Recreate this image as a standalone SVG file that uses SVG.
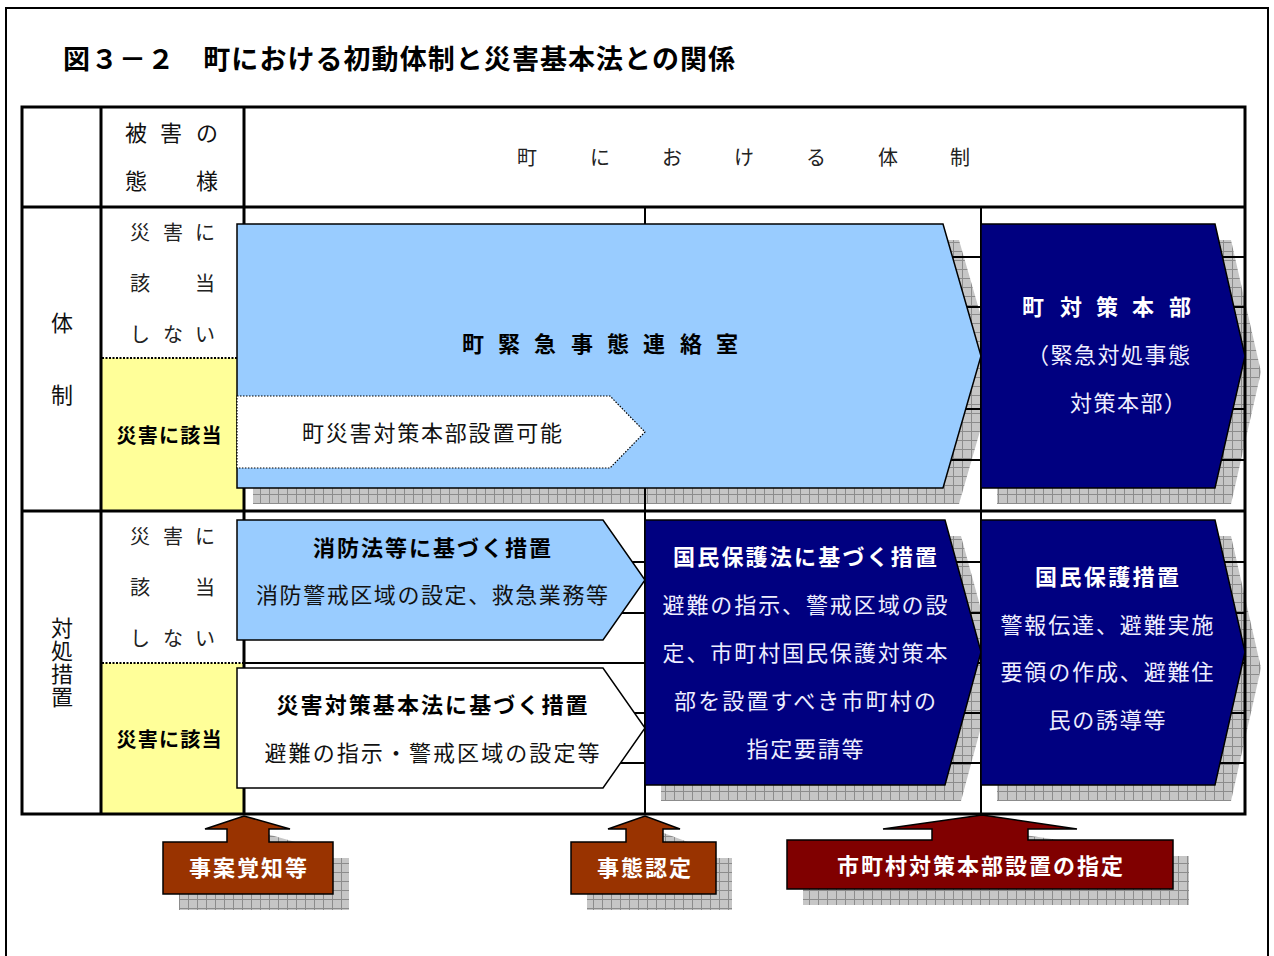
<svg xmlns="http://www.w3.org/2000/svg" width="1274" height="956" viewBox="0 0 1274 956">
<defs>
<pattern id="hatch" width="9" height="9" patternUnits="userSpaceOnUse">
<rect width="9" height="9" fill="#C6C6C6"/>
<path d="M8.5 0V9M0 8.5H9" stroke="#8C8C8C" stroke-width="1"/>
</pattern>
<style>
text{font-family:"Noto Sans CJK JP","Noto Sans",sans-serif;}
.t{font-size:22px;fill:#111;}
.s{font-size:20px;fill:#222;}
.b{font-size:22px;font-weight:bold;fill:#000;}
.w{font-size:22px;font-weight:bold;fill:#fff;}
.wl{font-size:22px;fill:#EEEEFF;}
.c{text-anchor:middle;}
.sh{fill:url(#hatch);}
.lb{fill:#99CCFF;stroke:#000;stroke-width:1.5;}
.nv{fill:#000080;stroke:#000;stroke-width:1.5;}
.wh{fill:#fff;stroke:#000;stroke-width:1.5;}
.ln{stroke:#000;stroke-width:2;fill:none;}
.bd{stroke:#000;stroke-width:3;fill:none;}
</style>
</defs>
<rect width="1274" height="956" fill="#fff"/>
<path d="M6 956V8H1268V956" fill="none" stroke="#000" stroke-width="2"/>
<text x="63" y="69" style="font-size:27px;font-weight:bold;fill:#000" textLength="672" lengthAdjust="spacing">図３－２　町における初動体制と災害基本法との関係</text>

<g id="shadows">
<polygon class="sh" points="253,240 959,240 997,372 959,504 253,504"/>
<polygon class="sh" points="997,240 1231,240 1261,372 1231,504 997,504"/>
<polygon class="sh" points="661,536 961,536 997,668 961,801 661,801"/>
<polygon class="sh" points="997,536 1231,536 1261,668 1231,801 997,801"/>
<polygon class="sh" points="179,858 243,858 243,845 221,845 260,832 306,845 285,845 285,858 349,858 349,910 179,910"/>
<polygon class="sh" points="587,858 642,858 642,845 624,845 661,832 696,845 679,845 679,858 732,858 732,910 587,910"/>
<polygon class="sh" points="803,856 948,856 948,845 899,845 998,831 1093,845 1044,845 1044,856 1189,856 1189,905 803,905"/>
</g>

<g id="table">
<rect x="102" y="358" width="142" height="153" fill="#FFFF99"/>
<rect x="102" y="663" width="142" height="151" fill="#FFFF99"/>
<path class="ln" d="M244 257H1245M244 307H1245M244 358H1245M244 409H1245M244 460H1245M244 562H1245M244 613H1245M244 663H1245M244 713H1245M244 763H1245"/>
<path d="M102 358H244M102 663H244" stroke="#000" stroke-width="2" stroke-dasharray="2 1.5"/>
<path class="ln" d="M645 207V814M981 207V814"/>
<path class="bd" d="M22 107H1245V814H22ZM101 107V814M244 107V814M22 207H1245M22 511H1245"/>
</g>

<g id="labels">
<text class="t c" x="136 171 207" y="141">被害の</text>
<text class="t c" x="136 207" y="189">態様</text>
<text class="s c" x="527 600 672 744 816 888 960" y="165">町における体制</text>
<text class="s c" x="140 173 205" y="240">災害に</text>
<text class="s c" x="140 205" y="291">該当</text>
<text class="s c" x="140 173 205" y="342">しない</text>
<text class="s c" x="140 173 205" y="544">災害に</text>
<text class="s c" x="140 205" y="595">該当</text>
<text class="s c" x="140 173 205" y="646">しない</text>
<text class="t c" x="62" y="331">体</text>
<text class="t c" x="62" y="403">制</text>
<text class="t c" x="62 62 62 62" y="636 659 682 705">対処措置</text>
<text class="b c" x="169" y="443" style="font-size:20px" textLength="105" lengthAdjust="spacing">災害に該当</text>
<text class="b c" x="169" y="747" style="font-size:20px" textLength="105" lengthAdjust="spacing">災害に該当</text>
</g>

<g id="node-renraku">
<polygon class="lb" points="237,224 943,224 981,356 943,488 237,488"/>
<text class="b c" x="473 509 545 582 618 654 691 727" y="352">町緊急事態連絡室</text>
</g>

<g id="node-kanou">
<polygon points="237,396 610,396 645,432 610,468 237,468" fill="#fff" stroke="#000" stroke-width="1.2" stroke-dasharray="1.5 1.5"/>
<text class="t c" x="432" y="441" textLength="260" lengthAdjust="spacing">町災害対策本部設置可能</text>
</g>

<g id="node-honbu">
<polygon class="nv" points="981,224 1215,224 1245,356 1215,488 981,488"/>
<text class="w c" x="1033 1071 1107 1143 1180" y="315">町対策本部</text>
<text class="wl" x="1027" y="363" textLength="163" lengthAdjust="spacing">（緊急対処事態</text>
<text class="wl" x="1070" y="411" textLength="116" lengthAdjust="spacing">対策本部）</text>
</g>

<g id="node-shobo">
<polygon class="lb" points="237,520 603,520 645,580 603,640 237,640"/>
<text class="b c" x="432" y="556" textLength="238" lengthAdjust="spacing">消防法等に基づく措置</text>
<text class="t c" x="432" y="603" textLength="352" lengthAdjust="spacing">消防警戒区域の設定、救急業務等</text>
</g>

<g id="node-saigai">
<polygon class="wh" points="237,668 603,668 645,728 603,788 237,788"/>
<text class="b c" x="432" y="713" textLength="311" lengthAdjust="spacing">災害対策基本法に基づく措置</text>
<text class="t c" x="432" y="761" textLength="335" lengthAdjust="spacing">避難の指示・警戒区域の設定等</text>
</g>

<g id="node-kokuminho">
<polygon class="nv" points="645,520 945,520 981,652 945,785 645,785"/>
<text class="w c" x="805" y="565" textLength="264" lengthAdjust="spacing">国民保護法に基づく措置</text>
<text class="wl c" x="805" y="613" textLength="285" lengthAdjust="spacing">避難の指示、警戒区域の設</text>
<text class="wl c" x="805" y="661" textLength="285" lengthAdjust="spacing">定、市町村国民保護対策本</text>
<text class="wl c" x="805" y="709" textLength="262" lengthAdjust="spacing">部を設置すべき市町村の</text>
<text class="wl c" x="805" y="757" textLength="117" lengthAdjust="spacing">指定要請等</text>
</g>

<g id="node-kokuminsochi">
<polygon class="nv" points="981,520 1215,520 1245,652 1215,785 981,785"/>
<text class="w c" x="1107" y="585" textLength="144" lengthAdjust="spacing">国民保護措置</text>
<text class="wl c" x="1107" y="633" textLength="213" lengthAdjust="spacing">警報伝達、避難実施</text>
<text class="wl c" x="1107" y="680" textLength="213" lengthAdjust="spacing">要領の作成、避難住</text>
<text class="wl c" x="1107" y="728" textLength="117" lengthAdjust="spacing">民の誘導等</text>
</g>

<g id="node-chichi">
<polygon points="163,842 227,842 227,829 205,829 244,816 290,829 269,829 269,842 333,842 333,894 163,894" fill="#993300" stroke="#000" stroke-width="1.5"/>
<text class="w c" x="248" y="876" textLength="118" lengthAdjust="spacing">事案覚知等</text>
</g>

<g id="node-nintei">
<polygon points="571,842 626,842 626,829 608,829 645,816 680,829 663,829 663,842 716,842 716,894 571,894" fill="#993300" stroke="#000" stroke-width="1.5"/>
<text class="w c" x="644" y="876" textLength="94" lengthAdjust="spacing">事態認定</text>
</g>

<g id="node-shitei">
<polygon points="787,840 932,840 932,829 883,829 982,815 1077,829 1028,829 1028,840 1173,840 1173,889 787,889" fill="#800000" stroke="#000" stroke-width="1.5"/>
<text class="w c" x="980" y="874" textLength="286" lengthAdjust="spacing">市町村対策本部設置の指定</text>
</g>
</svg>
